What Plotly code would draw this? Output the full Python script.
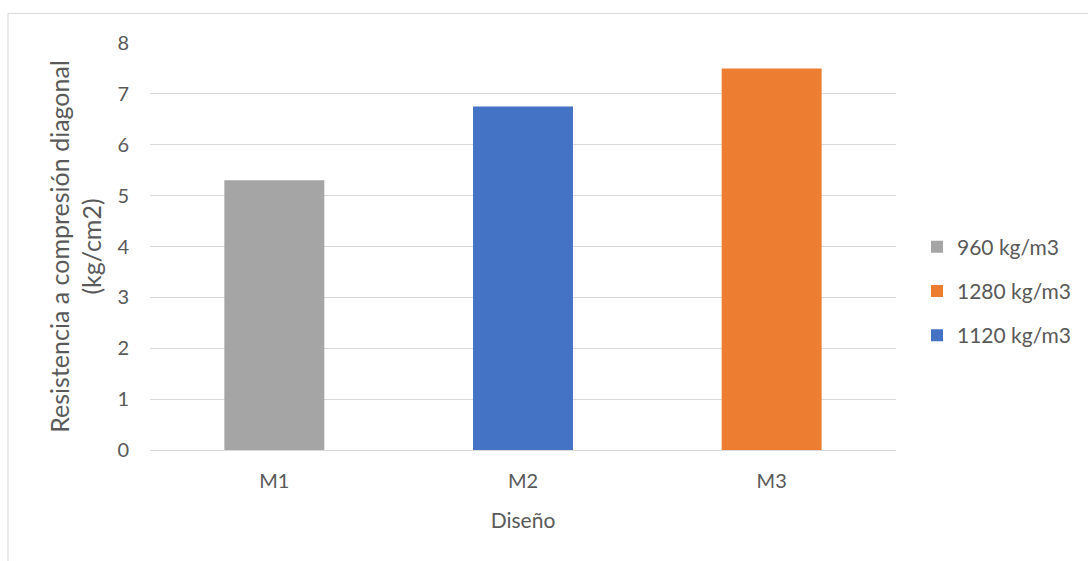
import plotly.graph_objects as go

categories = ["M1", "M2", "M3"]
series_names = ["960 kg/m3", "1280 kg/m3", "1120 kg/m3"]
series_category = ["M1", "M3", "M2"]
series_values = [5.3, 7.5, 6.75]
series_colors = ["#a5a5a5", "#ed7d31", "#4472c4"]
y_ticks = [0, 1, 2, 3, 4, 5, 6, 7, 8]

FONT = "Lato"
TEXT = "#595959"
GRID = "#d9d9d9"

fig = go.Figure()
for name, cat, val, col in zip(series_names, series_category, series_values, series_colors):
    fig.add_trace(go.Bar(
        name=name, x=[cat], y=[val], marker=dict(color=col, line=dict(width=0)),
        width=0.402, legendgroup=name,
    ))

fig.update_layout(
    width=1088, height=561,
    margin=dict(l=150, r=192, t=43, b=111, autoexpand=False),
    paper_bgcolor="white", plot_bgcolor="white",
    barmode="overlay",
    font=dict(family=FONT, size=20, color=TEXT),
    showlegend=True,
    legend=dict(
        xref="container", yref="container",
        x=917 / 1088, y=1 - 291 / 561, xanchor="left", yanchor="middle",
        font=dict(family=FONT, size=21, color=TEXT),
        itemsizing="constant", tracegroupgap=14,
        bgcolor="rgba(0,0,0,0)",
    ),
    xaxis=dict(
        categoryorder="array", categoryarray=categories,
        showgrid=False, showline=False, ticks="",
        tickfont=dict(family=FONT, size=20, color=TEXT), ticklabelstandoff=17,
        title=dict(text="Diseño", font=dict(family=FONT, size=21, color=TEXT), standoff=22),
    ),
    yaxis=dict(
        range=[0, 8], tickvals=y_ticks, showgrid=True, gridcolor=GRID, gridwidth=1,
        zeroline=True, zerolinecolor=GRID, zerolinewidth=1, showline=False, ticks="",
        tickfont=dict(family=FONT, size=20, color=TEXT), ticklabelstandoff=20,
        title=dict(text="Resistencia a compresión diagonal<br>(kg/cm2)",
                   font=dict(family=FONT, size=25, color=TEXT), standoff=8),
    ),
    shapes=[dict(
        type="rect", xref="paper", yref="paper",
        x0=-0.1903, x1=1.3, y0=-0.5, y1=1.0726,
        line=dict(color=GRID, width=1), fillcolor="rgba(0,0,0,0)", layer="below",
    )],
)

fig.write_html("out.html")
